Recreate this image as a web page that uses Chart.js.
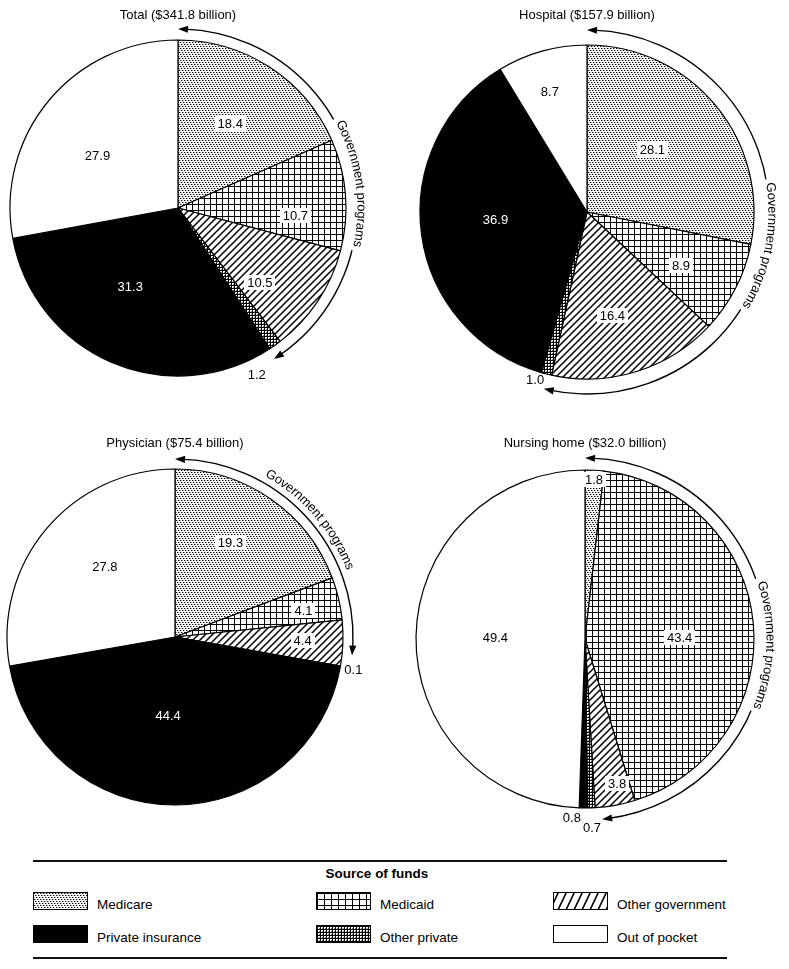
<!DOCTYPE html>
<html><head><meta charset="utf-8">
<script src="https://cdn.jsdelivr.net/npm/chart.js@4.4.1/dist/chart.umd.min.js"></script>
<style>
html,body{margin:0;padding:0;background:#fff;}
body{width:789px;height:969px;position:relative;overflow:hidden;font-family:"Liberation Sans",Arial,Helvetica,sans-serif;color:#000;}
canvas.pie{position:absolute;}
.rule{position:absolute;left:33px;width:694px;height:0;border-top:2px solid #111;}
.lg-title{position:absolute;left:0;width:754px;text-align:center;top:866px;font-weight:bold;font-size:13.5px;line-height:16px;}
.sw{position:absolute;width:53px;height:16px;border:1px solid #000;}
.lt{position:absolute;font-size:13.5px;line-height:16px;white-space:nowrap;}
</style></head><body>
<canvas id="c0" class="pie" width="394" height="420" style="left:0;top:0"></canvas>
<canvas id="c1" class="pie" width="395" height="420" style="left:394px;top:0"></canvas>
<canvas id="c2" class="pie" width="394" height="430" style="left:0;top:420px"></canvas>
<canvas id="c3" class="pie" width="395" height="430" style="left:394px;top:420px"></canvas>
<div class="rule" style="top:860px"></div>
<div class="lg-title" id="lgTitle"></div>
<div id="legend"></div>
<div class="rule" style="top:957px"></div>
<script>
// ---------------- data ----------------
const sources = ['Medicare', 'Medicaid', 'Other government', 'Other private', 'Private insurance', 'Out of pocket'];
const chartTitles = ['Total ($341.8 billion)', 'Hospital ($157.9 billion)', 'Physician ($75.4 billion)', 'Nursing home ($32.0 billion)'];
const totalValues = [18.4, 10.7, 10.5, 1.2, 31.3, 27.9];
const hospitalValues = [28.1, 8.9, 16.4, 1.0, 36.9, 8.7];
const physicianValues = [19.3, 4.1, 4.4, 0.1, 44.4, 27.8];
const nursingHomeValues = [1.8, 43.4, 3.8, 0.7, 0.8, 49.4];
const governmentLabel = 'Government programs';
const legendTitle = 'Source of funds';
const legendOrder = ['Medicare', 'Medicaid', 'Other government', 'Private insurance', 'Other private', 'Out of pocket'];

// ---------------- styling / layout (not data) ----------------
const FONT = '13px "Liberation Sans", Arial, Helvetica, sans-serif';
// [fraction along slice, radius factor] for each value label
const labelPlaceTotal = [[0.48, 0.59], [0.72, 0.70], [0.73, 0.66], [2.83, 1.10], [0.57, 0.55], [0.43, 0.57]];
const labelPlaceHospital = [[0.46, 0.54], [0.59, 0.65], [0.56, 0.64], [1.38, 1.05], [0.52, 0.55], [0.45, 0.75]];
const labelPlacePhysician = [[0.44, 0.65], [0.62, 0.78], [0.48, 0.76], [1.44, 1.08], [0.53, 0.47], [0.55, 0.59]];
const labelPlaceNursing = [[0.5, 0.94], [0.53, 0.56], [0.34, 0.88], [0.52, 1.12], [1.77, 1.06], [0.50, 0.53]];

function tile(w, h, draw) {
  const c = document.createElement('canvas');
  c.width = w; c.height = h;
  const g = c.getContext('2d');
  g.fillStyle = '#fff'; g.fillRect(0, 0, w, h);
  draw(g, w, h);
  return c;
}
const tiles = {
  stipple: tile(6, 6, g => {
    g.fillStyle = '#000';
    [[0,0],[3,0],[1,2],[4,2],[2,4],[5,4]].forEach(p => g.fillRect(p[0], p[1], 1, 1));
    g.fillStyle = 'rgba(0,0,0,0.35)';
    [[1,0],[4,0],[2,2],[5,2],[3,4],[0,4]].forEach(p => g.fillRect(p[0], p[1], 1, 1));
  }),
  grid: tile(6, 6, g => { g.fillStyle = '#000'; g.fillRect(0, 0, 6, 1); g.fillRect(0, 0, 1, 6); }),
  hatch: tile(7, 7, g => {
    g.strokeStyle = '#000'; g.lineWidth = 1.5; g.lineCap = 'square';
    g.beginPath();
    g.moveTo(-1, 8); g.lineTo(8, -1);
    g.moveTo(-8, 8); g.lineTo(1, -1);
    g.moveTo(6, 8); g.lineTo(15, -1);
    g.stroke();
  }),
  checker: tile(3, 3, g => {
    g.fillStyle = '#000';
    g.fillRect(0, 0, 3, 1); g.fillRect(0, 0, 1, 3);
    g.fillStyle = 'rgba(0,0,0,0.5)';
    g.fillRect(2, 2, 1, 1);
  }),
};
function patternFor(ctx, name) { return ctx.createPattern(tiles[name], 'repeat'); }
const sourceStyle = {
  'Medicare': 'stipple', 'Medicaid': 'grid', 'Other government': 'hatch',
  'Other private': 'checker', 'Private insurance': '#000', 'Out of pocket': '#fff'
};
function fillFor(ctx, name) {
  const s = sourceStyle[name];
  return s.startsWith('#') ? s : patternFor(ctx, s);
}

const extrasPlugin = {
  id: 'pieExtras',
  afterDatasetsDraw(chart, args, cfg) {
    const ctx = chart.ctx;
    const arcs = chart.getDatasetMeta(0).data;
    const values = chart.data.datasets[0].data;
    const cx = arcs[0].x, cy = arcs[0].y, r = arcs[0].outerRadius;
    ctx.save();
    ctx.font = FONT;
    ctx.textAlign = 'center';
    ctx.textBaseline = 'middle';
    // value labels
    arcs.forEach((a, i) => {
      const [frac, rf] = cfg.labelPlace[i];
      const ang = a.startAngle + frac * (a.endAngle - a.startAngle);
      const x = cx + rf * r * Math.cos(ang), y = cy + rf * r * Math.sin(ang);
      const txt = values[i].toFixed(1);
      const w = ctx.measureText(txt).width;
      const inside = rf < 1;
      if (inside && i <= 3) {
        ctx.fillStyle = '#fff';
        ctx.fillRect(Math.round(x - w / 2 - 3), Math.round(y - 8), Math.round(w + 6), 15);
      }
      ctx.fillStyle = (inside && i === 4) ? '#fff' : '#000';
      ctx.fillText(txt, x, y + 0.5);
    });
    // title
    ctx.fillStyle = '#000';
    ctx.fillText(cfg.title, cx, cfg.titleY);
    // government programs arc
    const R = r + cfg.arcGap;
    const a0 = -Math.PI / 2;
    const a1 = arcs[2].endAngle + cfg.arcExtra * Math.PI / 180;
    ctx.strokeStyle = '#000';
    ctx.lineWidth = 1.4;
    ctx.beginPath();
    ctx.arc(cx, cy, R, a0 + 6 / R, a1 - 6 / R);
    ctx.stroke();
    const head = (th, dir) => {
      const L = 10, h = 3.6;
      const tx = cx + R * Math.cos(th), ty = cy + R * Math.sin(th);
      const tb = th - dir * L / R;
      const bx = cx + R * Math.cos(tb), by = cy + R * Math.sin(tb);
      const nx = Math.cos(tb), ny = Math.sin(tb);
      ctx.beginPath();
      ctx.moveTo(tx, ty);
      ctx.lineTo(bx + h * nx, by + h * ny);
      ctx.lineTo(bx - h * nx, by - h * ny);
      ctx.closePath();
      ctx.fillStyle = '#000';
      ctx.fill();
    };
    head(a0, -1);
    head(a1, 1);
    // curved text
    const chars = Array.from(governmentLabel);
    const widths = chars.map(c => ctx.measureText(c).width);
    const total = widths.reduce((s, v) => s + v, 0);
    const Rt = R + cfg.textOffset;
    const thc = -Math.PI / 2 + cfg.textAngle * Math.PI / 180;
    if (cfg.textGap) {
      ctx.strokeStyle = '#fff';
      ctx.lineWidth = 5;
      ctx.beginPath();
      ctx.arc(cx, cy, R, thc - (total / 2 + 4) / Rt, thc + (total / 2 + 4) / Rt);
      ctx.stroke();
    }
    ctx.fillStyle = '#000';
    let acc = 0;
    chars.forEach((ch, k) => {
      const th = thc + (acc + widths[k] / 2 - total / 2) / Rt;
      ctx.save();
      ctx.translate(cx + Rt * Math.cos(th), cy + Rt * Math.sin(th));
      ctx.rotate(th + Math.PI / 2);
      ctx.fillText(ch, 0, 0);
      ctx.restore();
      acc += widths[k];
    });
    ctx.restore();
  }
};

// pie placement: canvas-local centre and radius
const setups = [
  { id: 'c0', values: totalValues, title: chartTitles[0], cx: 178, cy: 208, r: 168, titleY: 15, labelPlace: labelPlaceTotal, arcGap: 11, arcExtra: 5, textAngle: 82, textOffset: 4, textGap: true },
  { id: 'c1', values: hospitalValues, title: chartTitles[1], cx: 193, cy: 212, r: 167, titleY: 15, labelPlace: labelPlaceHospital, arcGap: 15, arcExtra: 1.5, textAngle: 101, textOffset: 3, textGap: true },
  { id: 'c2', values: physicianValues, title: chartTitles[2], cx: 175, cy: 217, r: 168, titleY: 23, labelPlace: labelPlacePhysician, arcGap: 10, arcExtra: -4, textAngle: 49, textOffset: 10, textGap: false },
  { id: 'c3', values: nursingHomeValues, title: chartTitles[3], cx: 191, cy: 219, r: 169, titleY: 23, labelPlace: labelPlaceNursing, arcGap: 12, arcExtra: -2, textAngle: 92, textOffset: 4, textGap: true },
];

setups.forEach(s => {
  const canvas = document.getElementById(s.id);
  const ctx = canvas.getContext('2d');
  const W = canvas.width, H = canvas.height;
  new Chart(ctx, {
    type: 'pie',
    data: {
      labels: sources,
      datasets: [{
        data: s.values,
        backgroundColor: sources.map(n => fillFor(ctx, n)),
        borderColor: '#000',
        borderWidth: 1.2,
        hoverOffset: 0,
        offset: 0,
      }]
    },
    options: {
      responsive: false,
      devicePixelRatio: 1,
      animation: false,
      events: [],
      radius: s.r,
      layout: { padding: { left: s.cx - s.r, right: W - s.cx - s.r, top: s.cy - s.r, bottom: H - s.cy - s.r } },
      plugins: {
        legend: { display: false },
        tooltip: { enabled: false },
        pieExtras: s,
      }
    },
    plugins: [extrasPlugin]
  });
});

// ---------------- legend ----------------
document.getElementById('lgTitle').textContent = legendTitle;
const legendCols = [33, 316, 553];
const legendRows = [892, 925];
const legendEl = document.getElementById('legend');
legendOrder.forEach((name, i) => {
  const col = i % 3, row = Math.floor(i / 3);
  const sw = document.createElement('div');
  sw.className = 'sw';
  sw.style.left = legendCols[col] + 'px';
  sw.style.top = legendRows[row] + 'px';
  const st = sourceStyle[name];
  if (st.startsWith('#')) sw.style.background = st;
  else {
    let t = tiles[st];
    if (st === 'grid') t = tile(7, 6, g => { g.fillStyle = '#000'; g.fillRect(0, 0, 7, 1); g.fillRect(0, 0, 1, 6); });
    if (st === 'hatch') t = tile(8, 16, g => { g.strokeStyle = '#000'; g.lineWidth = 1.6; g.beginPath(); g.moveTo(-4, 17); g.lineTo(4.5, -1); g.moveTo(4, 17); g.lineTo(12.5, -1); g.stroke(); });
    sw.style.backgroundImage = 'url(' + t.toDataURL() + ')';
    sw.style.backgroundPosition = '0 0';
  }
  legendEl.appendChild(sw);
  const lt = document.createElement('div');
  lt.className = 'lt';
  lt.textContent = name;
  lt.style.left = (legendCols[col] + 64) + 'px';
  lt.style.top = (legendRows[row] + 5) + 'px';
  legendEl.appendChild(lt);
});
</script>
</body></html>
